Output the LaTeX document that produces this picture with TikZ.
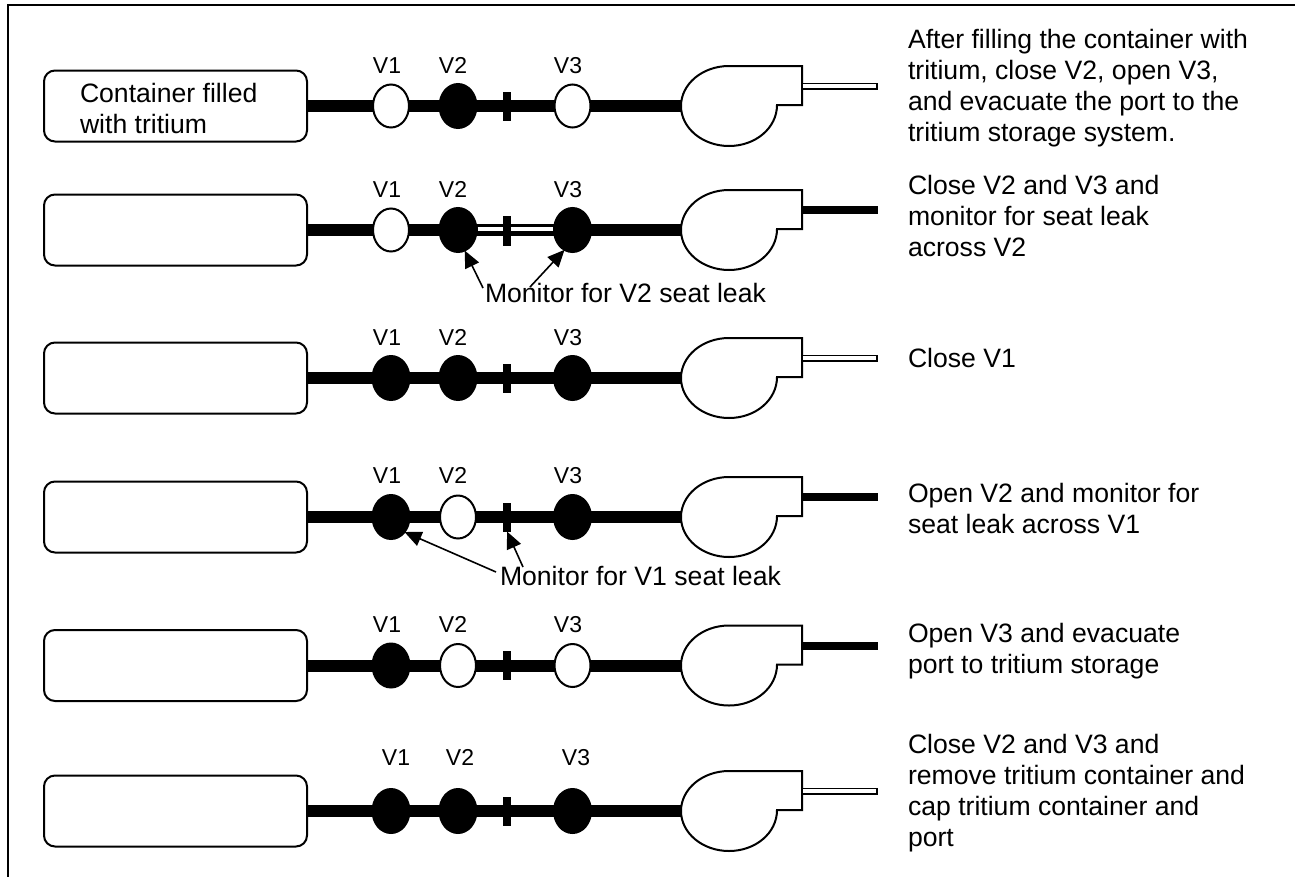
\documentclass[tikz,border=0pt]{standalone}
\usepackage{fontspec}
\setmainfont{Liberation Sans}
\usepackage{tikz}
\usetikzlibrary{arrows.meta}
\usetikzlibrary{shapes.geometric}
\newcommand{\bigfs}{\fontsize{26.6}{30.7}\selectfont}
\newcommand{\smallfs}{\fontsize{23}{26}\selectfont}
\begin{document}
\begin{tikzpicture}[x=1pt,y=-1pt]
\tikzstyle{every node}=[inner sep=0pt,outer sep=0pt]
\tikzstyle{tank}=[draw,line width=2pt,rounded corners=11pt,minimum width=263pt,minimum height=71pt,fill=white]
\tikzstyle{pipe}=[line width=12pt]
\tikzstyle{open}=[draw,ellipse,line width=2pt,fill=white,minimum width=36pt,minimum height=43pt]
\tikzstyle{shut}=[draw,ellipse,line width=2pt,fill=black,minimum width=37pt,minimum height=44pt]
\tikzstyle{stub}=[fill=black,minimum width=8pt,minimum height=29pt]
\tikzstyle{vlabel}=[font=\smallfs,anchor=base]
\tikzstyle{note}=[font=\bigfs,align=left,anchor=base west]
\tikzstyle{pointer}=[line width=1.6pt,-{Triangle[length=17pt,width=15pt]}]
\useasboundingbox (0,0) rectangle (1295,876);
\draw[line width=1.8pt] (8,880) -- (8,5) -- (1300,5);
% one row per step: y, V1, V2, V3, port line, x of labels, baseline of labels
\foreach \r/\cy/\vone/\vtwo/\vthree/\port/\lxa/\lxb/\lxc/\ly in {
 1/106/open/shut/open/0/387/453/568/73,
 2/230/open/shut/shut/1/387/453/568/197,
 3/378/shut/shut/shut/0/387/453/568/345,
 4/517/shut/open/shut/1/387/453/568/483,
 5/665.5/shut/open/open/1/387/453/568/632,
 6/811/shut/shut/shut/0/396/460/576/765}{
 \node[tank] (tank\r) at (175.5,\cy) {};
 \coordinate (pumpin\r) at (681,\cy);
 \draw[pipe] (tank\r.east) -- (pumpin\r);
 \draw[line width=2pt,fill=white] (802,\cy-40) -- (729,\cy-40)
  .. controls (702.5,\cy-40) and (681,\cy-22) .. (681,\cy)
  .. controls (681,\cy+22) and (702.5,\cy+40) .. (729,\cy+40)
  .. controls (755.5,\cy+40) and (777,\cy+22) .. (777,\cy-1)
  -- (802,\cy-1) -- cycle;
 \coordinate (portin\r) at (803,\cy-20);
 \coordinate (portout\r) at (878,\cy-20);
 \ifnum\port=1
  \draw[line width=8pt] (portin\r) -- (portout\r);
 \else
  \draw[line width=7pt] (portin\r) -- (portout\r);
  \draw[line width=3.4pt,white] (portin\r) -- ([xshift=-1.8pt]portout\r);
 \fi
 \node[\vone] (vone\r) at (391,\cy) {};
 \node[\vtwo] (vtwo\r) at (458,\cy) {};
 \node[\vthree] (vthree\r) at (572.5,\cy) {};
 \node[stub] (stub\r) at (507,\cy) {};
 \node[vlabel] (lone\r) at (\lxa,\ly) {V1};
 \node[vlabel] (ltwo\r) at (\lxb,\ly) {V2};
 \node[vlabel] (lthree\r) at (\lxc,\ly) {V3};
}
% white core of the line between V2 and V3
\draw[white,line width=4.4pt] ([xshift=1pt]vtwo2.east |- 0,229) -- ([xshift=-1pt]vthree2.west |- 0,229);
\draw[line width=2pt] ([xshift=1pt]vtwo2.east |- 0,226) -- ([xshift=-1pt]vthree2.west |- 0,226);
\node[stub] (stubb) at (507,231) {};
\node[note] (filled) at (80,133) {Container filled\\with tritium};
\node[note] (monb) at (485,302) {Monitor for V2 seat leak};
\node[note] (mond) at (500,585) {Monitor for V1 seat leak};
\coordinate (taila) at (483,288);
\coordinate (tailb) at (530,287);
\coordinate (tailc) at (496,572);
\coordinate (taild) at (523,567);
\draw[pointer] (taila) -- (vtwo2.-72);
\draw[pointer] (tailb) -- (vthree2.-112);
\draw[pointer] (tailc) -- (vone4.-48);
\draw[pointer] (taild) -- (stub4.south);
\node[note] (stepa) at (908,141) {After filling the container with\\tritium, close V2, open V3,\\and evacuate the port to the\\tritium storage system.};
\node[note] (stepb) at (908,256) {Close V2 and V3 and\\monitor for seat leak\\across V2};
\node[note] (stepc) at (908,367) {Close V1};
\node[note] (stepd) at (908,533) {Open V2 and monitor for\\seat leak across V1};
\node[note] (stepe) at (908,673) {Open V3 and evacuate\\port to tritium storage};
\node[note] (stepf) at (908,846) {Close V2 and V3 and\\remove tritium container and\\cap tritium container and\\port};
\end{tikzpicture}
\end{document}
